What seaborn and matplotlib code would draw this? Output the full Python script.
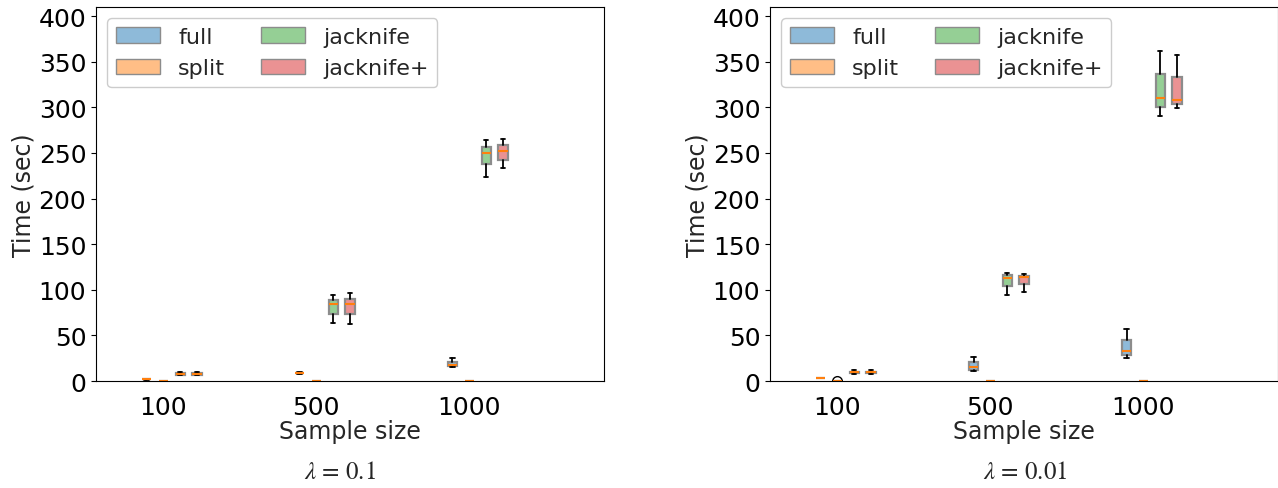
import numpy as np
import matplotlib.pyplot as plt
import seaborn as sns
from matplotlib.colors import to_rgba
from matplotlib.patches import Patch

sample_sizes = ["100", "500", "1000"]
methods = ["full", "split", "jacknife", "jacknife+"]
lambdas = ["0.1", "0.01"]

# five-number summaries per sample size: (whislo, q1, med, q3, whishi)
full_a = [(1.4, 1.7, 1.9, 2.2, 2.5), (7.9, 8.3, 8.7, 9.0, 9.4), (15.7, 17.0, 18.0, 21.0, 25.3)]
split_a = [(0.0, 0.0, 0.1, 0.2, 0.3), (0.0, 0.0, 0.1, 0.2, 0.3), (0.0, 0.0, 0.1, 0.2, 0.3)]
jack_a = [(6.5, 6.9, 7.7, 8.5, 10.2), (63.7, 74.0, 84.6, 89.0, 93.8), (223.4, 237.4, 250.0, 256.8, 264.5)]
jackp_a = [(6.6, 7.0, 7.8, 8.6, 10.3), (62.3, 73.3, 84.3, 90.0, 96.3), (233.0, 242.0, 252.0, 258.6, 265.2)]

full_b = [(2.9, 3.1, 3.3, 3.5, 3.7), (11.3, 12.4, 15.0, 20.5, 26.0), (24.9, 28.6, 33.3, 45.4, 57.0)]
split_b = [(0.0, 0.0, 0.1, 0.2, 0.3), (0.0, 0.0, 0.1, 0.2, 0.3), (0.0, 0.0, 0.1, 0.2, 0.3)]
jack_b = [(8.0, 8.7, 9.5, 10.3, 12.0), (94.5, 104.0, 113.0, 115.7, 118.3), (290.9, 300.8, 310.6, 336.6, 361.9)]
jackp_b = [(8.1, 8.8, 9.6, 10.4, 12.1), (97.5, 105.8, 114.3, 115.0, 116.8), (299.0, 304.0, 308.0, 333.0, 357.0)]
split_b_fliers = [[0.4], [], []]

panels = [
    (lambdas[0], [full_a, split_a, jack_a, jackp_a], [[], [], []]),
    (lambdas[1], [full_b, split_b, jack_b, jackp_b], split_b_fliers),
]

sns.set_style("ticks")
plt.rcParams['font.family'] = ['DejaVu Sans']
plt.rcParams['axes.edgecolor'] = 'black'
plt.rcParams['xtick.color'] = 'black'
plt.rcParams['ytick.color'] = 'black'

colors = sns.color_palette("tab10", 4)
offsets = [-0.11, 0.0, 0.11, 0.22]

fig = plt.figure(figsize=(12.78, 4.89), dpi=100)
ax_rects = [[0.0751, 0.2188, 0.3975, 0.7648], [0.6025, 0.2188, 0.3975, 0.7648]]
cap_x = [0.266, 0.802]

for p, (lam, series, fl_split) in enumerate(panels):
    ax = fig.add_axes(ax_rects[p])
    for m, stats5 in enumerate(series):
        stats = []
        for i, s in enumerate(stats5):
            fl = fl_split[i] if m == 1 else []
            stats.append(dict(whislo=s[0], q1=s[1], med=s[2], q3=s[3], whishi=s[4], fliers=fl))
        pos = [i + offsets[m] for i in range(len(sample_sizes))]
        ax.bxp(stats, positions=pos, widths=0.06, patch_artist=True, manage_ticks=False,
               boxprops=dict(facecolor=to_rgba(colors[m], 0.5), edgecolor='0.55', linewidth=1.6),
               medianprops=dict(color='C1', linewidth=1.5),
               whiskerprops=dict(color='black', linewidth=1.3),
               capprops=dict(color='black', linewidth=1.3),
               flierprops=dict(marker='o', markerfacecolor='none', markeredgecolor='black', markersize=7))
    ax.set_xlim(-0.44, 2.88)
    ax.set_ylim(0, 410)
    ax.set_xticks(range(len(sample_sizes)))
    ax.set_xticklabels(sample_sizes)
    ax.set_yticks(np.arange(0, 401, 50))
    ax.tick_params(axis='x', length=0, labelsize=18, pad=10)
    ax.tick_params(axis='y', labelsize=18)
    ax.set_xlabel("Sample size", fontsize=17, labelpad=0)
    ax.set_ylabel("Time (sec)", fontsize=17, labelpad=2)
    handles = [Patch(facecolor=to_rgba(colors[m], 0.5), edgecolor='0.55', label=methods[m])
               for m in range(len(methods))]
    ax.legend(handles=handles, ncol=2, loc='upper left', fontsize=16, handlelength=2.0,
              columnspacing=1.6, framealpha=1.0)
    fig.text(cap_x[p], 0.032, r"$\lambda$ = " + "$" + lam + "$", fontsize=18,
             ha='center', va='center', math_fontfamily='stix', family='STIXGeneral')

plt.savefig("out.png", dpi=100)
